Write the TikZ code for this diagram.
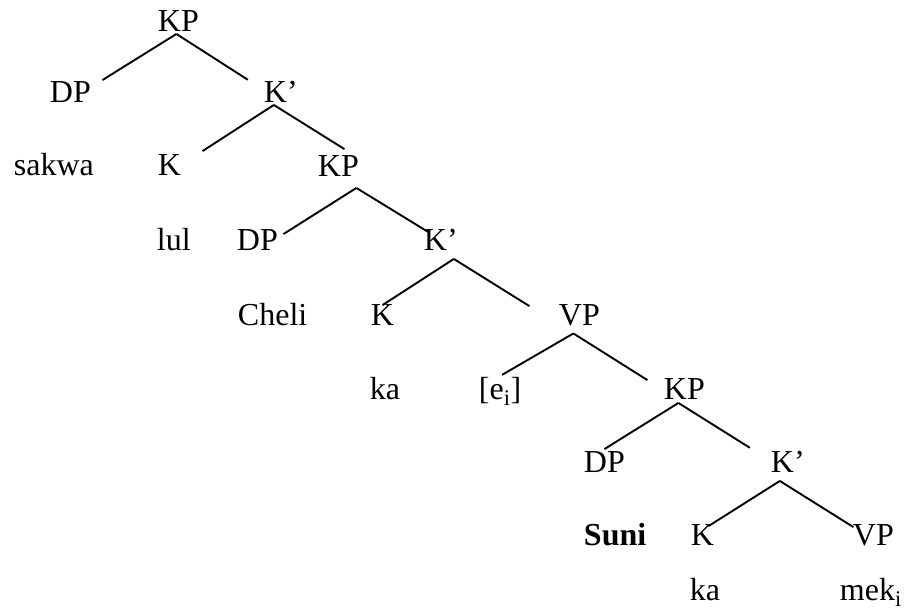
\documentclass[tikz,border=0pt]{standalone}
\usepackage{fontspec}
\setmainfont{Liberation Serif}
\tikzset{every picture/.style={line width=1.9pt}}
\tikzset{tree label/.style={anchor=base west, inner sep=0pt}}

\begin{document}
\begin{tikzpicture}[x=1pt,y=1pt,yscale=-1,xscale=1,font=\fontsize{32}{38}\selectfont]
	\useasboundingbox (0,0) rectangle (904,612);

	% Text Node
	\node[tree label] (kp1) at (157,32) {KP};
	% Text Node
	\node[tree label] (dp1) at (49,103) {DP};
	% Text Node
	\node[tree label] (kb1) at (263,103) {K’};
	% Text Node
	\node[tree label] (sakwa) at (13,176) {sakwa};
	% Text Node
	\node[tree label] (k1) at (157,176) {K};
	% Text Node
	\node[tree label] (kp2) at (317,177) {KP};
	% Text Node
	\node[tree label] (lul) at (156,251) {lul};
	% Text Node
	\node[tree label] (dp2) at (236,251) {DP};
	% Text Node
	\node[tree label] (kb2) at (423,251) {K’};
	% Text Node
	\node[tree label] (cheli) at (237,325) {Cheli};
	% Text Node
	\node[tree label] (k2) at (370,325) {K};
	% Text Node
	\node[tree label] (vp1) at (558,325) {VP};
	% Text Node
	\node[tree label] (ka1) at (369,399) {ka};
	% Text Node
	\node[tree label] (ei) at (478,399) {[e\textsubscript{i}]};
	% Text Node
	\node[tree label] (kp3) at (663,399) {KP};
	% Text Node
	\node[tree label] (dp3) at (583,472) {DP};
	% Text Node
	\node[tree label] (kb3) at (770,472) {K’};
	% Text Node
	\node[tree label] (suni) at (583,545) {\textbf{Suni}};
	% Text Node
	\node[tree label] (k3) at (690,545) {K};
	% Text Node
	\node[tree label] (vp2) at (852,545) {VP};
	% Text Node
	\node[tree label] (ka2) at (689,600) {ka};
	% Text Node
	\node[tree label] (mek) at (839,600) {mek\textsubscript{i}};

	%Straight Lines
	\draw ([shift={(-2,1)}]kp1.south) -- ([shift={(32,-1)}]dp1.north);
	\draw ([shift={(-2,1)}]kp1.south) -- ([shift={(-33,-1)}]kb1.north);
	\draw ([shift={(-7,1)}]kb1.south) -- ([shift={(33,-3)}]k1.north);
	\draw ([shift={(-7,1)}]kb1.south) -- ([shift={(6,-6)}]kp2.north);
	\draw ([shift={(18,10)}]kp2.south) -- ([shift={(26,5)}]dp2.north);
	\draw ([shift={(18,10)}]kp2.south) -- ([shift={(-13,3)}]kb2.north);
	\draw ([shift={(13,7)}]kb2.south) -- ([shift={(0,2)}]k2.north);
	\draw ([shift={(13,7)}]kb2.south) -- ([shift={(-50,3)}]vp1.north);
	\draw ([shift={(-6,7)}]vp1.south) -- ([shift={(2,-1)}]ei.north);
	\draw ([shift={(-6,7)}]vp1.south) -- ([shift={(-37,3)}]kp3.north);
	\draw ([shift={(-6,3)}]kp3.south) -- ([shift={(0,-1)}]dp3.north);
	\draw ([shift={(-6,3)}]kp3.south) -- ([shift={(-38,-2)}]kb3.north);
	\draw ([shift={(-8,8)}]kb3.south) -- ([shift={(6,3)}]k3.north);
	\draw ([shift={(-8,8)}]kb3.south) -- ([shift={(-20,4)}]vp2.north);

\end{tikzpicture}
\end{document}
